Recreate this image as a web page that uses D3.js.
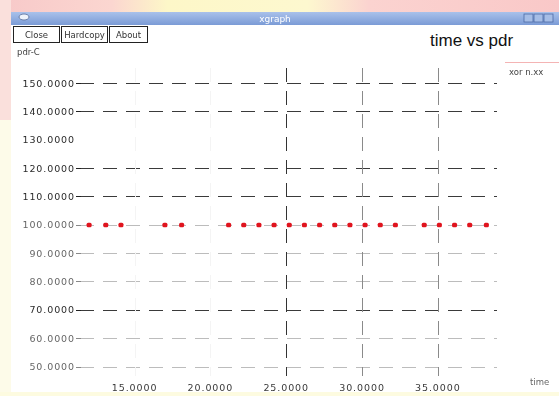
<!DOCTYPE html>
<html>
<head>
<meta charset="utf-8">
<script src="https://cdn.jsdelivr.net/npm/d3@7/dist/d3.min.js"></script>
<style>
  html, body { margin: 0; padding: 0; background: #ffffff; }
  svg { display: block; }
</style>
</head>
<body>
<svg id="chart" width="559" height="396"></svg>
<script>
// time (s) of each sample and the measured packet delivery ratio
const timeValues = [12.0, 13.1, 14.1, 17.0, 18.1, 21.2, 22.2, 23.2, 24.2, 25.2, 26.2,
                    27.2, 28.2, 29.2, 30.2, 31.2, 32.2, 34.1, 35.1, 36.1, 37.1, 38.2];
const pdrValues  = [100, 100, 100, 100, 100, 100, 100, 100, 100, 100, 100,
                    100, 100, 100, 100, 100, 100, 100, 100, 100, 100, 100];
const xTicks = [15, 20, 25, 30, 35];
const yTicks = [150, 140, 130, 120, 110, 100, 90, 80, 70, 60, 50];
const buttonLabels = ["Close", "Hardcopy", "About"];
const chartTitle = "time vs pdr";
const xAxisName = "time";
const yAxisName = "pdr-C";
const seriesName = "xor n.xx";
const windowTitle = "xgraph";

const svg = d3.select("#chart");
const W = 559, H = 396;

// ---- surroundings of the window ----
const defs = svg.append("defs");
defs.append("filter").attr("id", "soft").attr("x", "-5%").attr("y", "-20%").attr("width", "110%").attr("height", "140%")
  .append("feGaussianBlur").attr("stdDeviation", 0.45);
const topGrad = defs.append("linearGradient").attr("id", "topband").attr("x1", 0).attr("x2", 1);
topGrad.append("stop").attr("offset", 0).attr("stop-color", "#f7c9c9");
topGrad.append("stop").attr("offset", 0.2).attr("stop-color", "#fbd6d0");
topGrad.append("stop").attr("offset", 0.3).attr("stop-color", "#fdf7c8");
topGrad.append("stop").attr("offset", 0.55).attr("stop-color", "#fdf8cf");
topGrad.append("stop").attr("offset", 0.66).attr("stop-color", "#fbd3d0");
topGrad.append("stop").attr("offset", 1).attr("stop-color", "#f9c8c8");
svg.append("rect").attr("x", 0).attr("y", 0).attr("width", W).attr("height", H).attr("fill", "#fdfbe9");
svg.append("rect").attr("x", 0).attr("y", 0).attr("width", W).attr("height", 13).attr("fill", "url(#topband)");
svg.append("rect").attr("x", 0).attr("y", 0).attr("width", 11).attr("height", 120).attr("fill", "#fae0dc");

// ---- window frame ----
const titleGrad = defs.append("linearGradient").attr("id", "titlebar").attr("x1", 0).attr("x2", 0).attr("y1", 0).attr("y2", 1);
titleGrad.append("stop").attr("offset", 0).attr("stop-color", "#a9c1ea");
titleGrad.append("stop").attr("offset", 1).attr("stop-color", "#7b9bd6");
svg.append("rect").attr("x", 11).attr("y", 12).attr("width", W - 11).attr("height", 380).attr("fill", "#ffffff");
svg.append("rect").attr("x", 11).attr("y", 12).attr("width", W - 11).attr("height", 13).attr("fill", "url(#titlebar)");
svg.append("ellipse").attr("cx", 24).attr("cy", 17).attr("rx", 5).attr("ry", 3).attr("fill", "#eef3fb").attr("stroke", "#5a6f99").attr("stroke-width", 0.8);
svg.append("text").attr("x", 275).attr("y", 22).attr("text-anchor", "middle").attr("filter", "url(#soft)")
  .attr("font-family", "DejaVu Sans, sans-serif").attr("font-size", 9).attr("fill", "#ffffff").text(windowTitle);
[528, 538, 548].forEach(cx => {
  svg.append("rect").attr("x", cx - 4).attr("y", 14).attr("width", 9).attr("height", 8)
    .attr("fill", "#a5bde6").attr("stroke", "#4c6aa6").attr("stroke-width", 0.8);
});

// ---- buttons ----
const fontUI = "DejaVu Sans, sans-serif";
let bx = 13;
const btnWidths = [46, 46, 38];
buttonLabels.forEach((lab, i) => {
  const w = btnWidths[i];
  svg.append("rect").attr("x", bx + 0.5).attr("y", 26.5).attr("width", w).attr("height", 16)
    .attr("fill", "#ffffff").attr("stroke", "#222").attr("stroke-width", 1);
  svg.append("text").attr("x", bx + w / 2 + 0.5).attr("y", 38).attr("text-anchor", "middle").attr("filter", "url(#soft)")
    .attr("font-family", fontUI).attr("font-size", 8.5).attr("fill", "#333").text(lab);
  bx += w + 2;
});

// ---- scales ----
const x = d3.scaleLinear().domain([11.4, 38.9]).range([80, 497]);
const y = d3.scaleLinear().domain([50, 150]).range([366.5, 83]);
const fmt = d3.format(".4f");

// title and axis names
svg.append("text").attr("x", 430).attr("y", 46).attr("font-family", "Liberation Sans, Arial, sans-serif")
  .attr("font-size", 17).attr("fill", "#111").text(chartTitle);
svg.append("text").attr("x", 17).attr("y", 55).attr("font-family", fontUI).attr("filter", "url(#soft)")
  .attr("font-size", 8.5).attr("fill", "#444").text(yAxisName);
svg.append("text").attr("x", 530).attr("y", 385).attr("font-family", fontUI).attr("filter", "url(#soft)")
  .attr("font-size", 8.5).attr("fill", "#666").text(xAxisName);

// legend entry
svg.append("line").attr("x1", 505).attr("x2", 559).attr("y1", 62.5).attr("y2", 62.5)
  .attr("stroke", "#f4b4b4").attr("stroke-width", 1);
svg.append("text").attr("x", 509).attr("y", 75).attr("font-family", fontUI).attr("filter", "url(#soft)")
  .attr("font-size", 8.5).attr("fill", "#444").text(seriesName);

// ---- grid ----
const faintRows = new Set([100, 90, 80, 60, 50]);
const hiddenRows = new Set([130]);
const grid = svg.append("g");
yTicks.forEach(v => {
  if (hiddenRows.has(v)) return;
  const faint = faintRows.has(v);
  grid.append("line").attr("x1", x.range()[0]).attr("x2", x.range()[1])
    .attr("y1", Math.round(y(v)) + 0.5).attr("y2", Math.round(y(v)) + 0.5)
    .attr("stroke", faint ? "#bcbcbc" : "#3a3a3a").attr("stroke-width", 1)
    .attr("stroke-dasharray", "14,9");
});
const faintCols = new Set([15, 20]);
xTicks.forEach(v => {
  const faint = faintCols.has(v);
  grid.append("line").attr("x1", Math.round(x(v)) + 0.5).attr("x2", Math.round(x(v)) + 0.5)
    .attr("y1", 68).attr("y2", 376)
    .attr("stroke", faint ? "#f4f4f4" : (v === 25 ? "#333" : "#8a8a8a")).attr("stroke-width", 1)
    .attr("stroke-dasharray", "14,9");
});

// y tick labels
const yAxisG = svg.append("g");
yTicks.forEach(v => {
  const faint = faintRows.has(v);
  yAxisG.append("text").attr("x", 75).attr("y", y(v) + 3.5).attr("text-anchor", "end").attr("filter", "url(#soft)")
    .attr("font-family", fontUI).attr("font-size", 9.5).attr("letter-spacing", 0.9)
    .attr("fill", faint ? "#666" : "#2a2a2a").text(fmt(v));
  if (!hiddenRows.has(v)) {
    yAxisG.append("line").attr("x1", 76).attr("x2", 81)
      .attr("y1", Math.round(y(v)) + 0.5).attr("y2", Math.round(y(v)) + 0.5)
      .attr("stroke", faint ? "#888" : "#222");
  }
});

// x tick labels
const xAxisG = svg.append("g");
xTicks.forEach(v => {
  xAxisG.append("text").attr("x", x(v)).attr("y", 391).attr("text-anchor", "middle").attr("filter", "url(#soft)")
    .attr("font-family", fontUI).attr("font-size", 9.5).attr("letter-spacing", 0.9)
    .attr("fill", "#3a3a3a").text(fmt(v));
});

// ---- data points ----
svg.append("g").selectAll("rect.pt")
  .data(timeValues.map((t, i) => ({ t, p: pdrValues[i] })))
  .join("rect").attr("class", "pt")
  .attr("x", d => x(d.t) - 2.5).attr("y", d => y(d.p) - 2)
  .attr("width", 5).attr("height", 4.5).attr("rx", 1.5)
  .attr("fill", "#e0141e");

// bottom edge
svg.append("rect").attr("x", 0).attr("y", 392).attr("width", W).attr("height", 4).attr("fill", "#fdfbe0");
</script>
</body>
</html>
